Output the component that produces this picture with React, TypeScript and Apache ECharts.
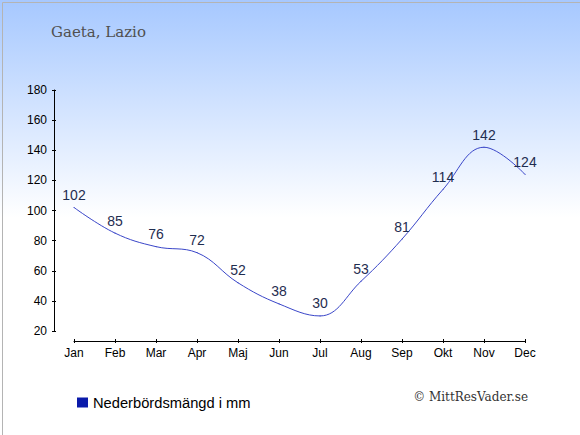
import React, { useEffect, useRef } from "react";
import * as echarts from "echarts";

const months = ["Jan", "Feb", "Mar", "Apr", "Maj", "Jun", "Jul", "Aug", "Sep", "Okt", "Nov", "Dec"];
const precipitation = [102, 85, 76, 72, 52, 38, 30, 53, 81, 114, 142, 124];
const seriesName = "Nederbördsmängd i mm";
const titleText = "Gaeta, Lazio";
const creditText = "© MittResVader.se";

export default function App() {
  const ref = useRef<HTMLDivElement>(null);
  useEffect(() => {
    if (!ref.current) return;
    const chart = echarts.init(ref.current, null, { renderer: "svg" });
    const sans = "'Liberation Sans', Arial, sans-serif";
    const serif = "'DejaVu Serif', Georgia, serif";
    chart.setOption({
      animation: false,
      backgroundColor: {
        type: "linear",
        x: 0,
        y: 0,
        x2: 0,
        y2: 1,
        colorStops: [
          { offset: 0, color: "#a6c8ff" },
          { offset: 0.5, color: "#ffffff" },
          { offset: 1, color: "#ffffff" },
        ],
      },
      title: {
        text: titleText,
        left: 46,
        top: 19,
        textStyle: { fontFamily: serif, fontSize: 15, fontWeight: "normal", color: "#505050" },
      },
      legend: {
        left: 72,
        top: 390,
        icon: "rect",
        itemWidth: 11,
        itemHeight: 10,
        itemGap: 6,
        data: [{ name: seriesName, itemStyle: { color: "#0a1aaa" } }],
        textStyle: { fontFamily: sans, fontSize: 14.7, color: "#000000" },
      },
      grid: { left: 74, right: 55, top: 90, height: 241 },
      xAxis: [
        {
          type: "category",
          data: months,
          boundaryGap: false,
          offset: 10,
          axisLine: { lineStyle: { color: "#000", width: 1 } },
          axisTick: { alignWithLabel: true, length: 2, lineStyle: { color: "#000" } },
          axisLabel: { color: "#000", fontFamily: sans, fontSize: 12, margin: 6 },
          splitLine: { show: false },
        },
        {
          type: "category",
          data: months,
          boundaryGap: false,
          position: "bottom",
          offset: 10,
          axisLine: { show: false },
          axisTick: { inside: true, length: 2, lineStyle: { color: "#000" } },
          axisLabel: { show: false },
          splitLine: { show: false },
        },
      ],
      yAxis: [
        {
          type: "value",
          min: 20,
          max: 180,
          interval: 20,
          offset: 20,
          axisLine: { show: true, lineStyle: { color: "#000", width: 1 } },
          axisTick: { show: true, length: 2, lineStyle: { color: "#000" } },
          axisLabel: { color: "#000", fontFamily: sans, fontSize: 12, margin: 7 },
          splitLine: { show: false },
        },
        {
          type: "value",
          min: 20,
          max: 180,
          interval: 20,
          offset: 20,
          position: "left",
          axisLine: { show: false },
          axisTick: { show: true, inside: true, length: 2, lineStyle: { color: "#000" } },
          axisLabel: { show: false },
          splitLine: { show: false },
        },
      ],
      series: [
        {
          name: seriesName,
          type: "line",
          data: precipitation,
          smooth: 0.4,
          symbol: "circle",
          symbolSize: 1,
          itemStyle: { color: "#3a46c8" },
          lineStyle: { color: "#3a46c8", width: 1 },
          label: {
            show: true,
            position: "top",
            distance: 5,
            color: "#1f2d50",
            fontFamily: sans,
            fontSize: 14,
          },
        },
      ],
      graphic: [
        {
          type: "text",
          right: 52,
          top: 391,
          style: { text: creditText, fontFamily: serif, fontSize: 12, fill: "#333333" },
        },
        {
          type: "rect",
          left: 0,
          top: 0,
          shape: { x: 0.5, y: 0.5, width: 579, height: 434 },
          style: { fill: "none", stroke: "#b4b4b4", lineWidth: 1 },
          silent: true,
        },
      ],
    });
    return () => chart.dispose();
  }, []);
  return (
    <div
      ref={ref}
      style={{ position: "fixed", left: 0, top: 0, width: 580, height: 435 }}
    />
  );
}
